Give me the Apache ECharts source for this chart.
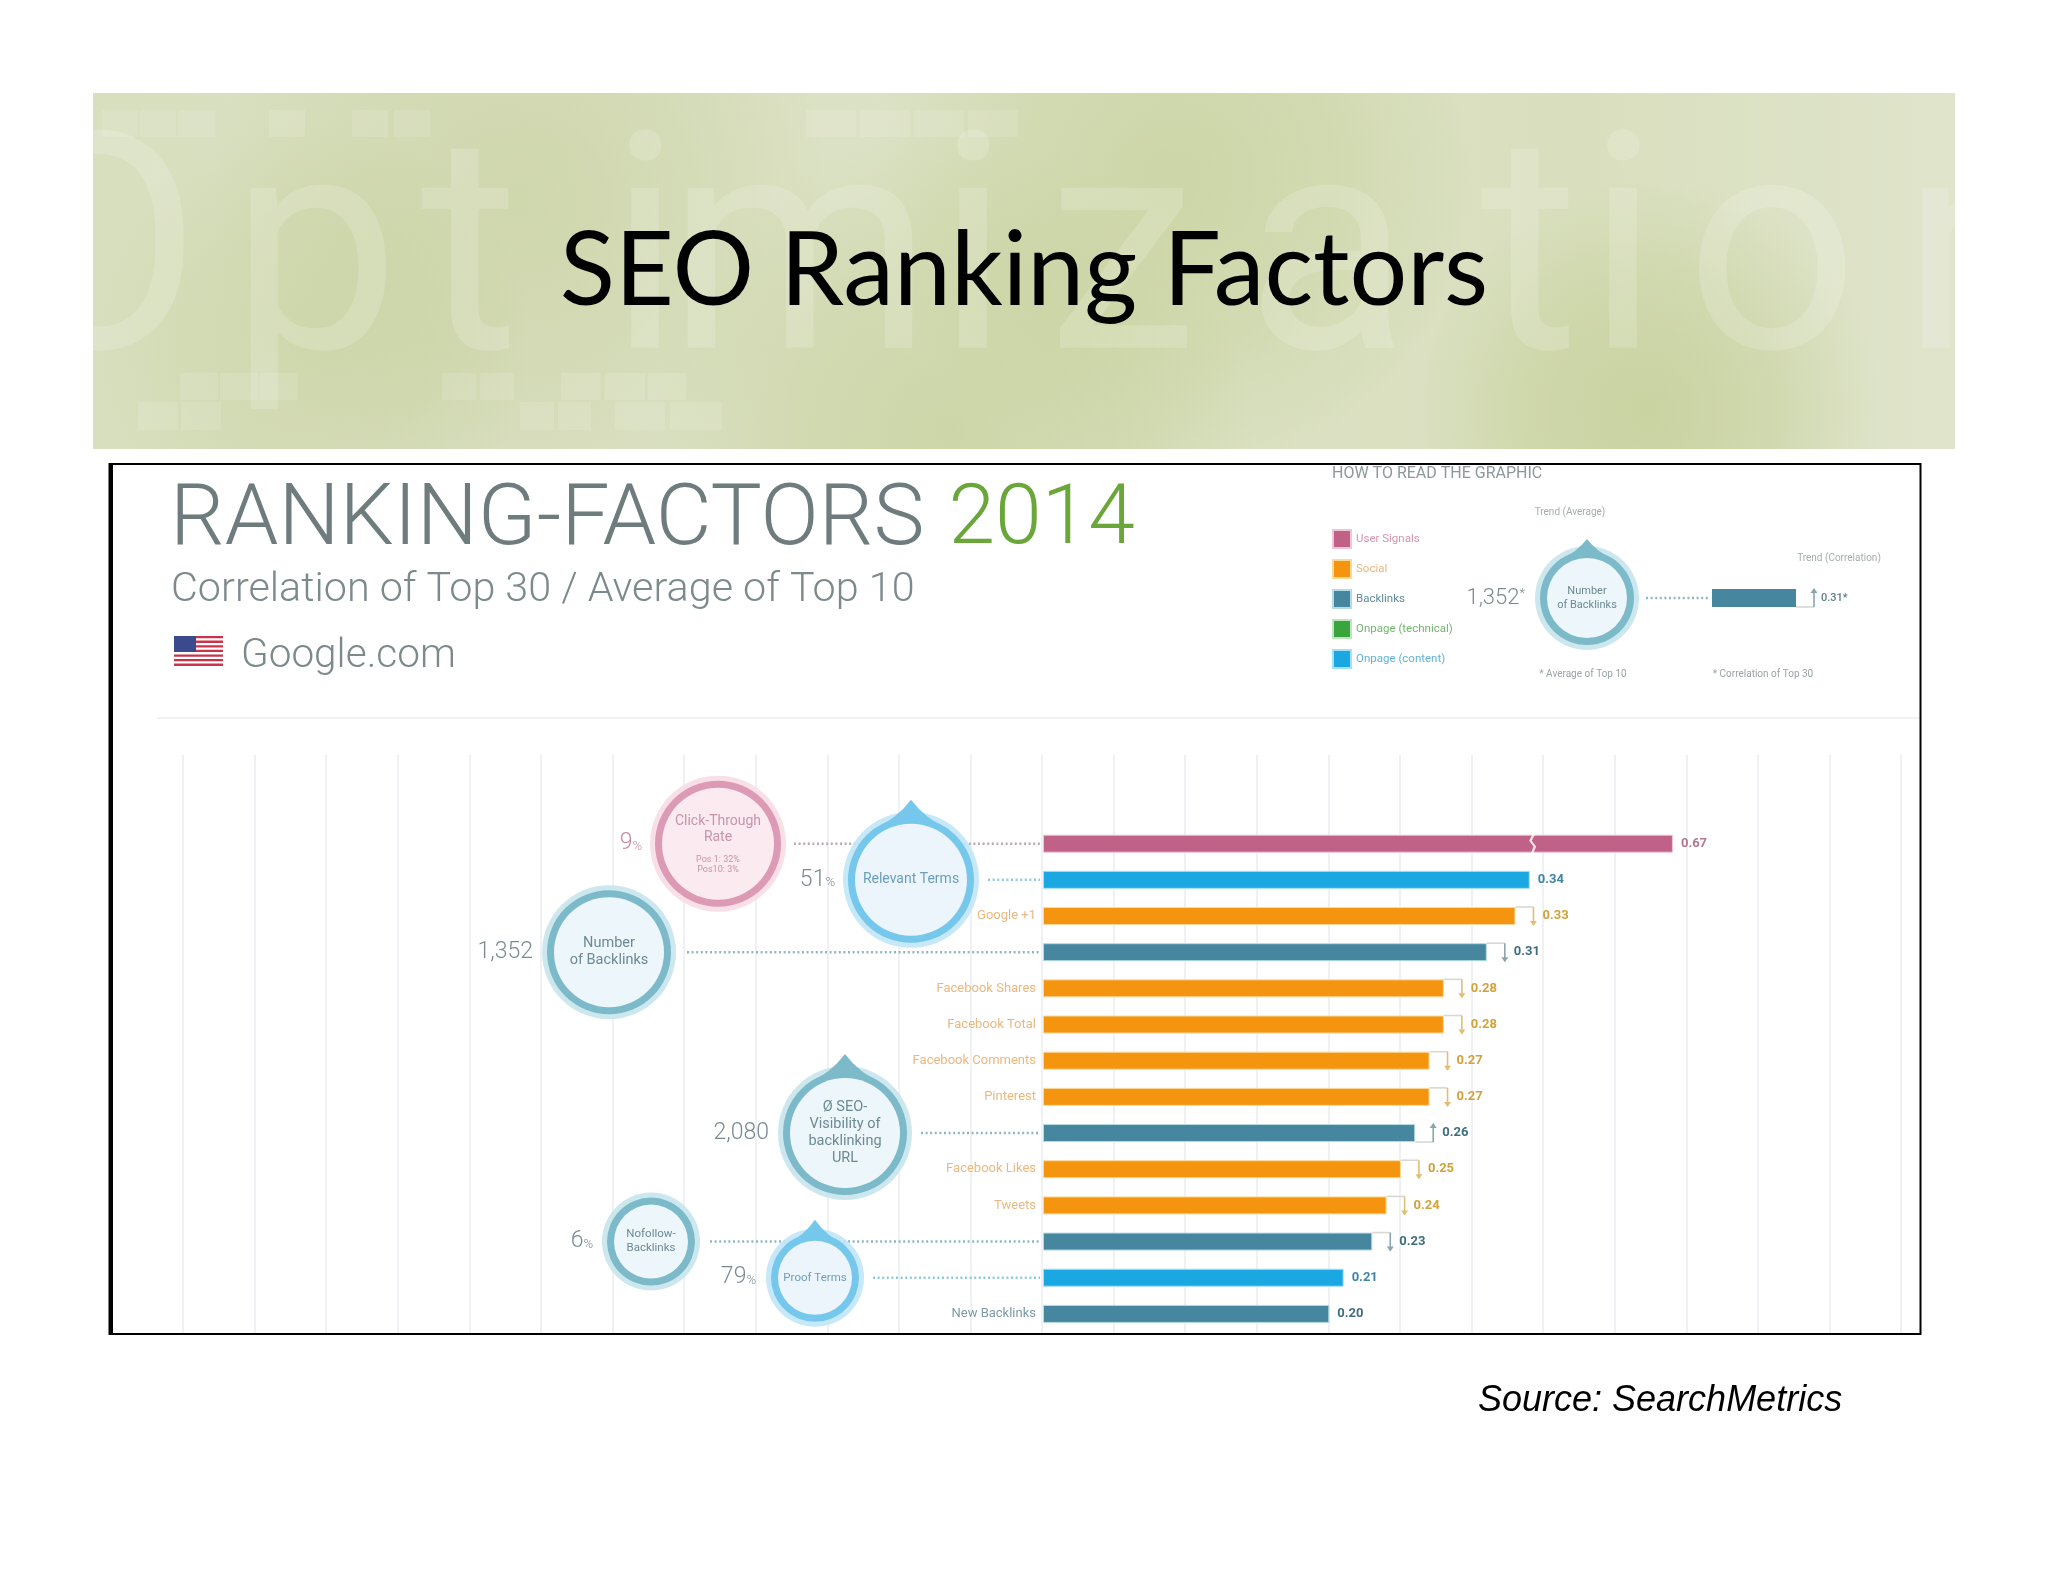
<!DOCTYPE html>
<html><head><meta charset="utf-8">
<style>html,body{margin:0;padding:0;background:#fff}#c{width:2048px;height:1582px}</style>
<script src="https://cdn.jsdelivr.net/npm/echarts@6/dist/echarts.min.js"></script>
</head><body><div id="c"></div>
<script>
// ---------- data ----------
const categories = ['Click-Through Rate','Relevant Terms','Google +1','Number of Backlinks','Facebook Shares','Facebook Total','Facebook Comments','Pinterest','Ø SEO-Visibility of backlinking URL','Facebook Likes','Tweets','Nofollow-Backlinks','Proof Terms','New Backlinks'];
const correlations = [0.67,0.34,0.33,0.31,0.28,0.28,0.27,0.27,0.26,0.25,0.24,0.23,0.21,0.20];
const factorGroups = ['User Signals','Onpage (content)','Social','Backlinks','Social','Social','Social','Social','Backlinks','Social','Social','Backlinks','Onpage (content)','Backlinks'];
const trends = [0,0,-1,-1,-1,-1,-1,-1,1,-1,-1,-1,0,0];
const groupNames = ['User Signals','Social','Backlinks','Onpage (technical)','Onpage (content)'];
const calloutRows = [0,1,3,8,11,12];
const calloutValues = ['9','51','1,352','2,080','6','79'];
const calloutUnits = ['%','%','','','%','%'];
const calloutTitles = ['Click-Through\nRate','Relevant Terms','Number\nof Backlinks','Ø SEO-\nVisibility of\nbacklinking\nURL','Nofollow-\nBacklinks','Proof Terms'];
const calloutNotes = ['Pos 1: 32%\nPos10: 3%','','','','',''];
const exampleCorrelation = [0.31];

// ---------- styles / layout ----------
const FONT = 'Roboto';
const groupColor = {'User Signals':'#c06288','Social':'#f5950f','Backlinks':'#46879f','Onpage (technical)':'#3aa53c','Onpage (content)':'#1ba7e1'};
const groupEdge = {'User Signals':'#efc6d6','Social':'#fbd99a','Backlinks':'#b5dbe6','Onpage (technical)':'#bfe4c0','Onpage (content)':'#a6e0f6'};
const groupLabel = {'User Signals':'#b5788f','Social':'#d2a23c','Backlinks':'#3f6e7e','Onpage (technical)':'#6fae6a','Onpage (content)':'#3d84a6'};
const legendText = {'User Signals':'#d795b0','Social':'#e8b982','Backlinks':'#5f8a9a','Onpage (technical)':'#74b570','Onpage (content)':'#62b2d8'};
const tone = {
  pink:{outer:'#f8dbe6',ring:'#dc9ab5',fill:'#fcecf2',text:'#c795ab',num:'#c28aa2',dot:'#b9a9b1'},
  teal:{outer:'#c7e5ec',ring:'#7dbac9',fill:'#f1f8fc',text:'#6d8a93',num:'#7a8b90',dot:'#8fb7c1'},
  blue:{outer:'#c0e6f7',ring:'#76c7ec',fill:'#eff6fc',text:'#6c9fba',num:'#7a8b90',dot:'#8fc7df'}
};
// dx: from axis zero, R: radius, tip: height of the drop above centre, lead: leader start
const calloutLayout = [
  {tone:'pink',dx:-325,R:68,tip:0,numDx:-76,lead:-249,size:14,lh:16,numSize:23},
  {tone:'blue',dx:-132,R:68,tip:80,numDx:-76,lead:-55,size:14,lh:16,numSize:23},
  {tone:'teal',dx:-434,R:67,tip:0,numDx:-76,lead:-356,size:14.5,lh:17,numSize:23},
  {tone:'teal',dx:-198,R:67,tip:79,numDx:-76,lead:-122,size:14.5,lh:17,numSize:23},
  {tone:'teal',dx:-392,R:49,tip:0,numDx:-58,lead:-333,size:11.5,lh:14,numSize:23},
  {tone:'blue',dx:-228,R:49,tip:58,numDx:-59,lead:-170,size:11.5,lh:14,numSize:23}
];

function bubble(cx, cy, L, title, note, num, unit, lead, barX) {
  const t = tone[L.tone], kids = [];
  if (lead !== null) kids.push({type:'line',shape:{x1:cx+lead,y1:cy,x2:barX-3,y2:cy},style:{stroke:t.dot,lineWidth:2.5,lineDash:[2,2.6]}});
  kids.push({type:'circle',shape:{cx,cy,r:L.R},style:{fill:t.outer,opacity:0.9}});
  if (L.tip) {
    // drop: slightly concave sides running tangent into the ring
    const r=L.R-5, top=cy-L.tip, c=r/L.tip, s=Math.sqrt(1-c*c), tx=r*s, ty=cy-r*c;
    const qx=tx*0.36, qy=top+(ty-top)*0.62;
    kids.push({type:'path',shape:{pathData:`M${cx},${top} Q${cx-qx},${qy} ${cx-tx},${ty} L${cx},${cy} L${cx+tx},${ty} Q${cx+qx},${qy} ${cx},${top} Z`},style:{fill:t.ring}});
  }
  kids.push({type:'circle',shape:{cx,cy,r:L.R-5},style:{fill:t.ring}});
  kids.push({type:'circle',shape:{cx,cy,r:L.R-12},style:{fill:t.fill,opacity:0.97}});
  kids.push({type:'text',style:{text:title,x:cx,y:note?cy-14:cy,align:'center',verticalAlign:'middle',fontFamily:FONT,fontSize:L.size,lineHeight:L.lh,fill:t.text}});
  if (note) kids.push({type:'text',style:{text:note,x:cx,y:cy+21,align:'center',verticalAlign:'middle',fontFamily:FONT,fontSize:9,lineHeight:10,fill:t.text}});
  kids.push({type:'text',style:{text:unit?'{a|'+num+'}{b|'+unit+'}':'{a|'+num+'}',x:cx+L.numDx,y:cy,align:'right',verticalAlign:'middle',
    rich:{a:{fontFamily:FONT,fontWeight:300,fontSize:L.numSize,fill:t.num},b:{fontFamily:FONT,fontWeight:300,fontSize:13,fill:t.num,padding:[unit==='*'?0:6,0,unit==='*'?8:0,0]}}}});
  return kids;
}

function bracket(x, y, half, dir, color) {
  const w = 18, yFrom = dir<0 ? y-half : y+half, yTo = dir<0 ? y+half : y-half, back = dir<0 ? -4 : 4;
  return [
    {type:'polyline',shape:{points:[[x,yFrom],[x+w,yFrom]]},style:{stroke:'#d8d8d2',lineWidth:1.6,fill:null}},
    {type:'polyline',shape:{points:[[x+w,yFrom],[x+w,yTo]]},style:{stroke:color,lineWidth:1.6,fill:null}},
    {type:'polygon',shape:{points:[[x+w-3.5,yTo+back],[x+w+3.5,yTo+back],[x+w,yTo-back/4]]},style:{fill:color}}
  ];
}

const barSeries = groupNames.map(g => ({
  name:g,type:'bar',xAxisIndex:1,yAxisIndex:1,barWidth:18,barGap:'-100%',z:3,
  itemStyle:{color:groupColor[g],borderColor:groupEdge[g],borderWidth:1},
  label:{show:true,position:'right',fontFamily:FONT,fontWeight:700,fontSize:13,color:groupLabel[g],formatter:p=>p.value.toFixed(2)},
  data:correlations.map((v,i)=>factorGroups[i]===g?{value:v,label:{distance:trends[i]?27:8}}:null)
}));

const blob = (cx,cy,r,alpha) => ({type:'circle',z:-19,shape:{cx,cy,r},
  style:{fill:{type:'radial',x:0.5,y:0.5,r:0.5,colorStops:[{offset:0,color:`rgba(190,202,140,${alpha})`},{offset:0.55,color:`rgba(190,202,140,${alpha*0.6})`},{offset:1,color:'rgba(190,202,140,0)'}]}}});
const banner = [
  {type:'rect',z:-20,shape:{x:93,y:93,width:1862,height:356},style:{fill:{type:'linear',x:0,y:0,x2:1,y2:0,colorStops:[
    {offset:0,color:'#d8dfbf'},{offset:.2,color:'#dadfc2'},{offset:.5,color:'#dce2c5'},{offset:.8,color:'#d9dfbe'},{offset:1,color:'#dfe4cb'}]}}},
  blob(520,200,310,0.38),
  blob(1170,180,300,0.5),
  blob(950,430,300,0.5),
  blob(1650,410,230,0.6),
  blob(310,340,220,0.35)
];
// decorative lettering behind the banner title
[['O',97],['p',315],['t',470],['i',645],['m',800],['i',973],['z',1122],['a',1328],['t',1530],['i',1623],['o',1772],['n',1985]].forEach(([ch,x])=>{
  banner.push({type:'text',z:-18,style:{text:ch,x,y:426,align:'center',verticalAlign:'bottom',fontFamily:FONT,fontWeight:400,fontSize:303,lineHeight:308,fill:'rgba(255,255,255,0.17)'}});
});
[[102,110,36,27],[140,110,36,27],[178,110,37,27],[269,110,36,27],[352,110,36,27],[394,110,36,27],[806,110,50,27],[860,110,50,27],[914,110,50,27],[968,110,50,27],
 [180,373,38,27],[220,373,38,27],[260,373,38,27],[442,373,34,27],[480,373,34,27],[561,373,40,27],[605,373,40,27],[648,373,38,27],
 [138,402,40,28],[181,402,40,28],[520,402,34,28],[558,402,33,28],[615,402,50,28],[670,402,52,28]].forEach(([x,y,width,height])=>{
  banner.push({type:'rect',z:-18,shape:{x,y,width,height},style:{fill:'rgba(255,255,255,0.12)'}});
});
// masks that keep the banner art inside its rectangle
banner.push({type:'rect',z:-17,shape:{x:0,y:0,width:2048,height:93},style:{fill:'#fff'}});
banner.push({type:'rect',z:-17,shape:{x:0,y:93,width:93,height:356},style:{fill:'#fff'}});
banner.push({type:'rect',z:-17,shape:{x:1955,y:93,width:93,height:356},style:{fill:'#fff'}});
banner.push({type:'rect',z:-17,shape:{x:0,y:449,width:2048,height:300},style:{fill:'#fff'}});

const txt = (text,x,y,fontSize,fill,align) => ({type:'text',z:1,style:{text,x,y,fontSize,fill,fontFamily:FONT,align:align||'left',verticalAlign:'middle'}});
const flag = [{type:'rect',z:1,shape:{x:174,y:636,width:49,height:30},style:{fill:'#fff'}}];
for (let i=0;i<7;i++) flag.push({type:'rect',z:1,shape:{x:174,y:636+i*4.6,width:49,height:2.3},style:{fill:'#c9344a'}});
flag.push({type:'rect',z:1,shape:{x:174,y:636,width:22,height:16},style:{fill:'#3a4a8c'}});

const option = {
  animation:false,
  backgroundColor:'#fff',
  title:[
    {text:'SEO Ranking Factors',left:1019,top:216,textAlign:'center',textStyle:{fontFamily:'Lato',fontWeight:400,fontSize:102,color:'#000'}},
    {text:'{a|RANKING-FACTORS}{b|2014}',left:165,top:474,textStyle:{rich:{a:{fontFamily:FONT,fontWeight:300,fontSize:86,color:'#6f7c7e'},b:{fontFamily:FONT,fontWeight:300,fontSize:84,color:'#6aa63a',padding:[0,0,0,24]}}}},
    {text:'Correlation of Top 30 / Average of Top 10',left:166,top:565,textStyle:{fontFamily:FONT,fontWeight:300,fontSize:41.3,color:'#7d8a8c'}},
    {text:'Google.com',left:236,top:631,textStyle:{fontFamily:FONT,fontWeight:300,fontSize:40.5,color:'#7d8a8c'}},
    {text:'Source: SearchMetrics',left:1473,top:1378,textStyle:{fontFamily:'Liberation Sans',fontStyle:'italic',fontWeight:400,fontSize:36,color:'#000'}}
  ],
  legend:{orient:'vertical',left:1327,top:524,itemWidth:18,itemHeight:18,itemGap:10,icon:'rect',selectedMode:false,
    textStyle:{fontFamily:FONT,fontSize:11.5},
    data:groupNames.map(n=>({name:n,textStyle:{color:legendText[n]}}))},
  graphic:[...banner,...flag,
    {type:'rect',z:0,shape:{x:157,y:717,width:1764,height:2},style:{fill:'#eff1f2'}},
    txt('HOW TO READ THE GRAPHIC',1332,474,16,'#8e9799'),
    txt('Trend (Average)',1570,512,10,'#a4adae','center'),
    txt('Trend (Correlation)',1839,558,10,'#a4adae','center'),
    txt('* Average of Top 10',1583,674,10,'#9aa3a5','center'),
    txt('* Correlation of Top 30',1763,674,10,'#9aa3a5','center'),
    {type:'rect',z:10,shape:{x:109.5,y:464,width:1811,height:870},style:{fill:null,stroke:'#000',lineWidth:2}},
    {type:'rect',z:10,shape:{x:109,y:464,width:4,height:870},style:{fill:'#000'}}
  ],
  grid:[
    {left:183,width:1718,top:755,height:579},
    {left:184,width:1718,top:825.6,height:506.4},
    {left:1712,width:84,top:589,height:18}
  ],
  xAxis:[
    {gridIndex:0,type:'value',min:-0.6,max:0.6,interval:0.05,axisLabel:{show:false},axisLine:{show:false},axisTick:{show:false},splitLine:{show:true,lineStyle:{color:'#f0f1f4',width:2}}},
    {gridIndex:1,type:'value',min:-0.6,max:0.83,axisLabel:{show:false},axisLine:{show:false},axisTick:{show:false},splitLine:{show:false},
      breaks:[{start:0.342,end:0.572,gap:0}],breakArea:{show:false}},
    {gridIndex:2,type:'value',min:0,max:0.31,axisLabel:{show:false},axisLine:{show:false},axisTick:{show:false},splitLine:{show:false}}
  ],
  yAxis:[
    {gridIndex:0,type:'value',min:0,max:1,axisLabel:{show:false},axisLine:{show:false},axisTick:{show:false},splitLine:{show:false}},
    {gridIndex:1,type:'category',inverse:true,offset:-859,data:categories.map((c,i)=>({value:c,textStyle:{color:factorGroups[i]==='Social'?'#e8b982':'#7b9aa5'}})),
      axisLine:{show:false,onZero:false},axisTick:{show:false},splitLine:{show:false},
      axisLabel:{margin:7,fontFamily:FONT,fontSize:13,interval:0,formatter:(c,i)=>calloutRows.includes(i)?'':c}},
    {gridIndex:2,type:'category',data:['Number of Backlinks'],axisLabel:{show:false},axisLine:{show:false},axisTick:{show:false}}
  ],
  series:[
    // empty carrier so the gridline axis pair stays active
    {type:'scatter',xAxisIndex:0,yAxisIndex:0,symbolSize:0,data:[],silent:true},
    ...barSeries,
    {name:'callouts',type:'custom',xAxisIndex:1,yAxisIndex:1,z:2,silent:true,data:calloutRows.map(r=>[0,r]),
      renderItem:(p,api)=>{
        const i=p.dataIndex,L=calloutLayout[i],o=api.coord([0,calloutRows[i]]);
        return {type:'group',children:bubble(o[0]+L.dx,o[1],L,calloutTitles[i],calloutNotes[i],calloutValues[i],calloutUnits[i],L.lead-L.dx,o[0])};
      }},
    {name:'trend',type:'custom',xAxisIndex:1,yAxisIndex:1,z:4,silent:true,
      data:correlations.map((v,i)=>[v,i,trends[i]]).filter(d=>d[2]!==0),
      renderItem:(p,api)=>{
        const r=api.value(1),c=api.coord([api.value(0),r]);
        return {type:'group',children:bracket(c[0],c[1],9,api.value(2),factorGroups[r]==='Social'?'#e3bd74':'#8aa5ae')};
      }},
    {name:'axis break',type:'scatter',xAxisIndex:1,yAxisIndex:1,z:5,silent:true,data:[[0.342,0]],
      symbol:'path://M5,0 L8,0 L3,9 L8,15 L4,24 L1,24 L5,15 L0,9 Z',symbolSize:[7,23],itemStyle:{color:'#fff'}},
    {name:'example',type:'bar',xAxisIndex:2,yAxisIndex:2,barWidth:18,z:3,data:exampleCorrelation,itemStyle:{color:groupColor['Backlinks']},
      label:{show:true,position:'right',distance:25,fontFamily:FONT,fontSize:11,fontWeight:500,color:'#5f7d88',formatter:p=>p.value.toFixed(2)+'*'}},
    {name:'example callout',type:'custom',xAxisIndex:2,yAxisIndex:2,z:2,silent:true,data:[[0,0]],
      renderItem:(p,api)=>{
        const o=api.coord([0,0]);
        return {type:'group',children:bubble(o[0]-125,o[1],{tone:'teal',R:52,tip:59,numDx:-62,size:11,lh:13.5,numSize:22},'Number\nof Backlinks','','1,352','*',59,o[0])};
      }},
    {name:'example trend',type:'custom',xAxisIndex:2,yAxisIndex:2,z:4,silent:true,data:[[exampleCorrelation[0],0,1]],
      renderItem:(p,api)=>{
        const c=api.coord([api.value(0),0]);
        return {type:'group',children:bracket(c[0],c[1],9,1,'#8aa5ae')};
      }}
  ]
};
const chart = echarts.init(document.getElementById('c'),null,{renderer:'canvas'});
chart.setOption(option);
</script></body></html>
